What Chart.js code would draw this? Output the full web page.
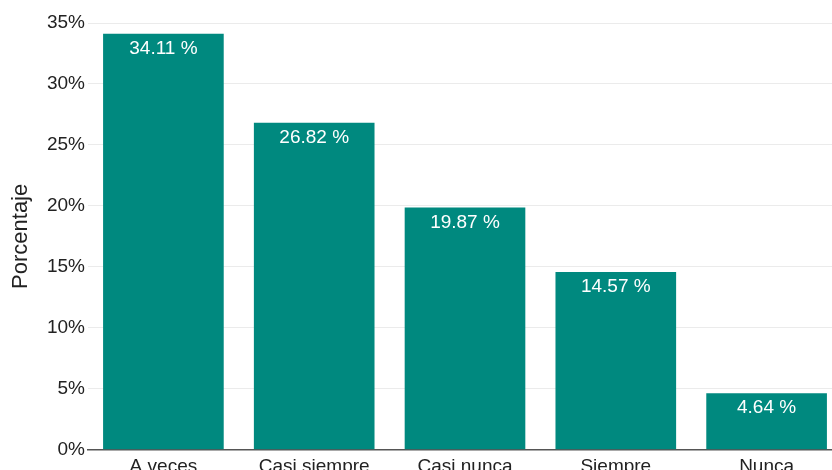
<!DOCTYPE html>
<html>
<head>
<meta charset="utf-8">
<script src="https://cdn.jsdelivr.net/npm/chart.js@4/dist/chart.umd.min.js"></script>
<style>
html,body{margin:0;padding:0;background:#fff;overflow:hidden;}
#wrap{width:832px;height:470px;overflow:hidden;position:relative;}
canvas{display:block;}
</style>
</head>
<body>
<div id="wrap"><canvas id="c" width="842" height="492"></canvas></div>
<script>
const categories = ["A veces", "Casi siempre", "Casi nunca", "Siempre", "Nunca"];
const percentages = [34.11, 26.82, 19.87, 14.57, 4.64];
const yTicks = [0, 5, 10, 15, 20, 25, 30, 35];

const FONT = "'Liberation Sans', Arial, Helvetica, sans-serif";

const valueLabels = {
  id: 'valueLabels',
  afterDatasetsDraw(chart) {
    const ctx = chart.ctx;
    const meta = chart.getDatasetMeta(0);
    ctx.save();
    ctx.fillStyle = '#ffffff';
    ctx.font = '19px ' + FONT;
    ctx.textAlign = 'center';
    ctx.textBaseline = 'middle';
    meta.data.forEach((bar, i) => {
      ctx.fillText(percentages[i].toFixed(2) + ' %', bar.x, bar.y + 15);
    });
    ctx.restore();
  }
};

new Chart(document.getElementById('c'), {
  type: 'bar',
  data: {
    labels: categories,
    datasets: [{
      data: percentages,
      backgroundColor: '#00897f',
      borderWidth: 0,
      barPercentage: 0.8,
      categoryPercentage: 1.0
    }]
  },
  options: {
    responsive: false,
    animation: false,
    devicePixelRatio: 1,
    layout: { padding: { left: 8, right: 0, top: 23, bottom: 17 } },
    plugins: { legend: { display: false }, tooltip: { enabled: false } },
    scales: {
      x: {
        grid: { display: false },
        border: { display: true, color: '#555555', width: 1.5 },
        ticks: { color: '#222222', font: { family: FONT, size: 19, lineHeight: 0.7 }, padding: 2, maxRotation: 0 }
      },
      y: {
        min: 0,
        max: 35,
        afterBuildTicks(scale) { scale.ticks = yTicks.map(v => ({ value: v })); },
        afterFit(scale) { scale.width = 80; },
        grid: { color: '#ebebeb', lineWidth: 1, drawTicks: false },
        border: { display: false },
        ticks: {
          color: '#222222',
          font: { family: FONT, size: 19 },
          padding: 3,
          callback: v => v + '%'
        },
        title: {
          display: true,
          text: 'Porcentaje',
          color: '#222222',
          font: { family: FONT, size: 22 },
          padding: { top: 0, bottom: 0 }
        }
      }
    }
  },
  plugins: [valueLabels]
});
</script>
</body>
</html>
